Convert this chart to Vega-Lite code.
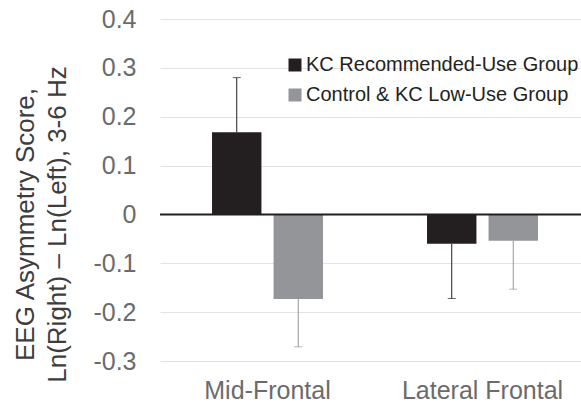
{
  "$schema": "https://vega.github.io/schema/vega-lite/v6.json",
  "width": 430,
  "height": 342,
  "autosize": {"type": "none"},
  "padding": {"left": 160, "top": 19, "right": 0, "bottom": 46},
  "background": "white",
  "config": {
    "font": "Liberation Sans",
    "view": {"stroke": null},
    "axis": {"labelFont": "Liberation Sans", "titleFont": "Liberation Sans"}
  },
  "layer": [
    {
      "data": {
        "values": [
          {"region": "Mid-Frontal", "group": "KC Recommended-Use Group", "value": 0.168, "err": 0.28},
          {"region": "Mid-Frontal", "group": "Control & KC Low-Use Group", "value": -0.173, "err": -0.271},
          {"region": "Lateral Frontal", "group": "KC Recommended-Use Group", "value": -0.06, "err": -0.172},
          {"region": "Lateral Frontal", "group": "Control & KC Low-Use Group", "value": -0.054, "err": -0.153}
        ]
      },
      "encoding": {
        "x": {
          "field": "region", "type": "nominal", "sort": ["Mid-Frontal", "Lateral Frontal"],
          "scale": {"paddingInner": 0.484, "paddingOuter": 0.242},
          "axis": {"title": null, "domain": false, "ticks": false, "tickSize": 0, "labelAngle": 0, "labelFontSize": 25, "labelColor": "#6b6b6b", "labelPadding": 17, "grid": false}
        },
        "xOffset": {
          "field": "group", "type": "nominal", "sort": ["KC Recommended-Use Group", "Control & KC Low-Use Group"],
          "scale": {"paddingInner": 0.197, "paddingOuter": 0}
        },
        "color": {
          "field": "group", "type": "nominal", "sort": ["KC Recommended-Use Group", "Control & KC Low-Use Group"],
          "scale": {"domain": ["KC Recommended-Use Group", "Control & KC Low-Use Group"], "range": ["#231f20", "#939598"]},
          "legend": {
            "title": null, "orient": "none", "legendX": 125, "legendY": 36, "padding": 0,
            "symbolType": "square", "symbolSize": 169, "symbolStrokeWidth": 0, "symbolOpacity": 1,
            "labelFontSize": 20, "labelColor": "#231f20", "labelFont": "Liberation Sans", "labelOffset": 1, "rowPadding": 10, "labelLimit": 400
          }
        }
      },
      "layer": [
        {
          "mark": {"type": "bar"},
          "encoding": {
            "y": {
              "field": "value", "type": "quantitative",
              "scale": {"domain": [-0.3, 0.4], "nice": false, "zero": false},
              "axis": {
                "values": [-0.3, -0.2, -0.1, 0, 0.1, 0.2, 0.3, 0.4],
                "labelExpr": "datum.value == 0 ? '0' : toString(round(datum.value * 10) / 10)",
                "domain": false, "ticks": false, "tickSize": 0,
                "labelFontSize": 25, "labelColor": "#6b6b6b", "labelPadding": 24,
                "grid": true, "gridColor": "#e3e3e3", "gridWidth": 1,
                "title": ["EEG Asymmetry Score,", "Ln(Right) \u2013 Ln(Left), 3-6 Hz"],
                "titleFontSize": 26, "titleFontWeight": "normal", "titleColor": "#3d3d3d",
                "titleAngle": -90, "titleX": -148, "titleY": 205, "titleBaseline": "top", "titleAlign": "center", "titleLineHeight": 32
              }
            }
          }
        },
        {
          "mark": {"type": "rule", "strokeWidth": 1},
          "encoding": {
            "y": {"field": "value", "type": "quantitative"},
            "y2": {"field": "err"}
          }
        },
        {
          "mark": {"type": "tick", "size": 8, "thickness": 1},
          "encoding": {
            "y": {"field": "err", "type": "quantitative"}
          }
        }
      ]
    },
    {
      "data": {"values": [{"zero": 0}]},
      "mark": {"type": "rule", "color": "#231f20", "strokeWidth": 2},
      "encoding": {"y": {"field": "zero", "type": "quantitative"}}
    }
  ]
}
